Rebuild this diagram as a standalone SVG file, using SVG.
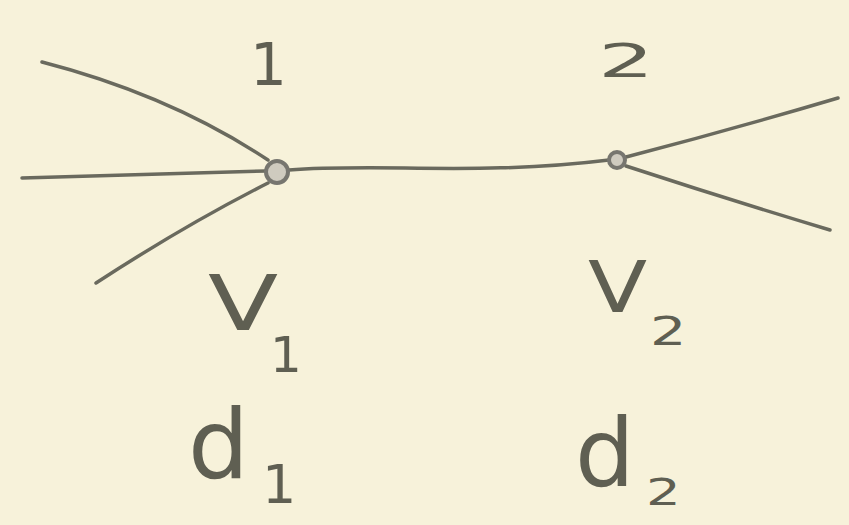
<svg xmlns="http://www.w3.org/2000/svg" width="849" height="525" viewBox="0 0 849 525">
<style>
.edge{fill:none;stroke:#6a6a5e;stroke-width:3.5;stroke-linecap:round}
.node{fill:#cfcbbf;stroke:#77766f;stroke-width:4}
.lbl{font-family:"DejaVu Sans","Liberation Sans",sans-serif;fill:#5f5f52}
</style>
<rect width="849" height="525" fill="#f7f2da"/>
<g id="connectors">
<path class="edge" d="M42,62 Q170,95 268,160"/>
<path class="edge" d="M22,178 L266,171"/>
<path class="edge" d="M96,283 Q185,225 268,183"/>
<path class="edge" d="M289,170 C380,163 480,176 609,160"/>
<path class="edge" d="M626,157 Q730,130 838,98"/>
<path class="edge" d="M626,166 Q730,200 830,230"/>
</g>
<g id="node1">
<circle class="node" cx="277" cy="172" r="11"/>
<text class="lbl" x="250" y="85" font-size="58">1</text>
<text class="lbl" x="208" y="330" font-size="76" transform="translate(208,330) scale(1.35,1) translate(-208,-330)">V</text>
<text class="lbl" x="270" y="372" font-size="50">1</text>
<text class="lbl" x="188" y="478" font-size="96">d</text>
<text class="lbl" x="262" y="503" font-size="54">1</text>
</g>
<g id="node2">
<circle class="node" cx="617" cy="160" r="8"/>
<text class="lbl" x="598" y="77" font-size="52" transform="translate(598,77) scale(1.7,0.9) translate(-598,-77)">2</text>
<text class="lbl" x="588" y="312" font-size="72" transform="translate(588,312) scale(1.2,1) translate(-588,-312)">V</text>
<text class="lbl" x="650" y="345" font-size="44" transform="translate(650,345) scale(1.3,0.9) translate(-650,-345)">2</text>
<text class="lbl" x="575" y="486" font-size="94">d</text>
<text class="lbl" x="646" y="505" font-size="42" transform="translate(646,505) scale(1.3,0.9) translate(-646,-505)">2</text>
</g>
</svg>
